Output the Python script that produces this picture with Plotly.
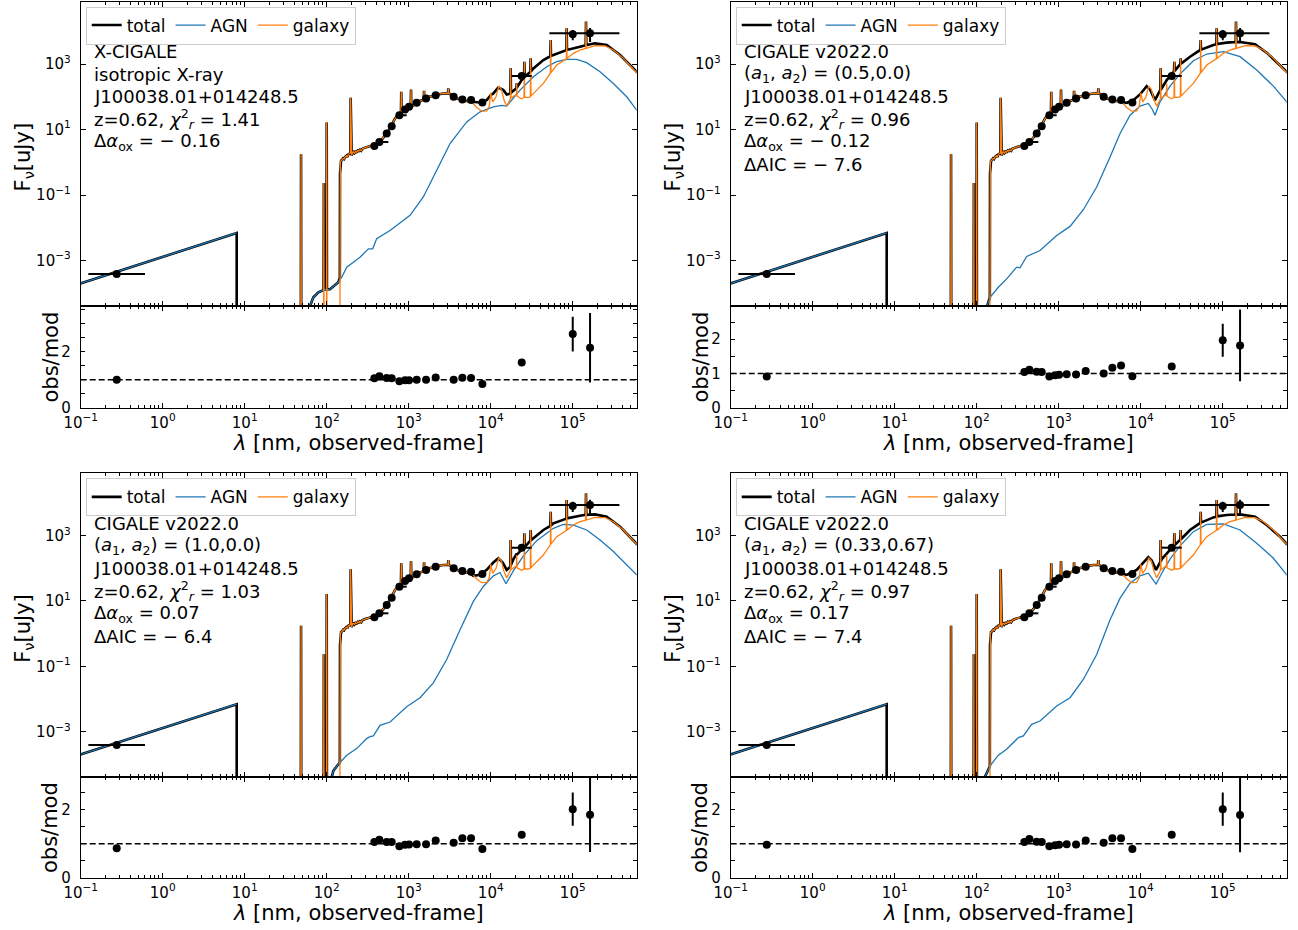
import plotly.graph_objects as go

# ---------------- observed photometry (same source in every panel) ----------------
obs_lam = [0.275, 381, 439, 539, 620, 769, 902, 1009, 1251, 1627, 2133,
           3533, 4508, 5754, 7911, 23870, 100000, 162600]
obs_flux = [3.9e-4, 3.16, 4.19, 7.53, 12.6, 27.5, 40.9, 49.4, 65.5, 88.9, 112,
            100, 82.8, 79.1, 67.0, 429, 8090, 8690]
obs_flux_err = [0.3e-4, 0.1, 0.1, 0.2, 0.3, 0.5, 0.8, 1.0, 1.5, 2.0, 3.0,
                2.0, 2.0, 3.0, 3.0, 30, 2800, 4000]
obs_lam_err_minus = [0.151, 0, 0, 0, 0, 0, 0, 0, 0, 0, 0, 0, 0, 0, 0, 5840, 0, 110700]
obs_lam_err_plus = [0.333, 0, 126, 0, 0, 175, 0, 0, 0, 0, 0, 0, 0, 0, 0, 7750, 0, 208100]

# ---------------- residuals obs/mod ----------------
res_tl = [1.00, 1.05, 1.12, 1.06, 1.05, 0.94, 0.98, 0.98, 1.00, 1.00, 1.08, 1.00, 1.07, 1.06, 0.85, 1.61, 2.63, 2.14]
res_tl_err = [0.05, 0.03, 0.03, 0.03, 0.03, 0.03, 0.03, 0.03, 0.03, 0.03, 0.03, 0.03, 0.04, 0.04, 0.03, 0.08, 0.62, 1.24]
res_tr = [0.91, 1.04, 1.11, 1.05, 1.04, 0.91, 0.95, 0.96, 0.98, 0.97, 1.07, 1.00, 1.17, 1.23, 0.92, 1.20, 1.97, 1.82]
res_tr_err = [0.08, 0.03, 0.03, 0.03, 0.03, 0.03, 0.03, 0.03, 0.03, 0.03, 0.03, 0.03, 0.07, 0.10, 0.03, 0.08, 0.48, 1.05]
res_bl = [0.87, 1.05, 1.12, 1.05, 1.05, 0.93, 0.97, 0.98, 0.99, 0.99, 1.10, 1.03, 1.16, 1.16, 0.85, 1.27, 2.02, 1.86]
res_bl_err = [0.06, 0.03, 0.03, 0.03, 0.03, 0.03, 0.03, 0.03, 0.03, 0.03, 0.03, 0.03, 0.07, 0.08, 0.03, 0.07, 0.49, 1.10]
res_br = [0.97, 1.05, 1.14, 1.06, 1.05, 0.93, 0.96, 0.97, 0.99, 0.98, 1.10, 1.03, 1.16, 1.16, 0.85, 1.27, 2.02, 1.85]
res_br_err = [0.07, 0.03, 0.03, 0.03, 0.03, 0.03, 0.03, 0.03, 0.03, 0.03, 0.03, 0.03, 0.07, 0.08, 0.03, 0.07, 0.49, 1.10]

# ---------------- model spectra, stored as log10(lambda/nm), log10(F/uJy) ----------------
# X-ray power law of the AGN (same in all panels)
xray_logl = [-1.05, 0.902]
xray_logf = [-3.74, -2.16]
floor_logf = -6.0   # far below the plotted range

# galaxy (same in all panels): far-UV lines, UV/optical, IR
gal_lo_logl = [1.60, 1.684, 1.687, 1.690, 1.962, 1.965, 1.968, 1.997, 2.000, 2.003, 2.160]
gal_lo_logf = [-6.0, -6.0, 0.245, -6.0, -6.0, -0.633, -6.0, -6.0, 1.215, -6.0, -6.0]

gal_mid_logl = [2.162, 2.166, 2.175, 2.183, 2.200, 2.212, 2.223, 2.240, 2.252, 2.264, 2.278,
                2.288, 2.292, 2.296, 2.305, 2.315, 2.325, 2.338, 2.350, 2.365, 2.380, 2.392,
                2.406, 2.420, 2.435, 2.460, 2.487, 2.520, 2.550, 2.589, 2.620, 2.650, 2.690,
                2.731, 2.760, 2.792, 2.815, 2.833, 2.855, 2.874, 2.905, 2.909, 2.913, 2.930,
                2.955, 2.985, 3.016, 3.024, 3.028, 3.032, 3.060, 3.097, 3.140, 3.183, 3.187,
                3.191, 3.219, 3.270, 3.321, 3.370, 3.422, 3.479, 3.483, 3.487, 3.510, 3.544,
                3.600, 3.646, 3.700, 3.740]
gal_mid_logf = [-0.35, 0.0, 0.05, 0.061, 0.12, 0.10, 0.163, 0.20, 0.16, 0.245, 0.26,
                0.27, 1.969, 0.25, 0.20, 0.30, 0.316, 0.28, 0.33, 0.31, 0.36, 0.34,
                0.38, 0.35, 0.41, 0.44, 0.469, 0.49, 0.505, 0.520, 0.57, 0.622, 0.75,
                0.877, 1.0, 1.132, 1.25, 1.337, 1.40, 1.45, 1.50, 2.153, 1.51, 1.55,
                1.592, 1.63, 1.673, 1.68, 2.224, 1.69, 1.74, 1.816, 1.87, 1.92, 2.183,
                1.93, 1.979, 2.02, 2.051, 2.08, 2.102, 2.11, 2.255, 2.11, 2.07, 2.0,
                1.94, 1.898, 1.87, 1.855]

gal_hi_logl = [3.768, 3.829, 3.890, 3.951, 3.983, 4.000, 4.024, 4.065, 4.097, 4.130, 4.162,
               4.195, 4.227, 4.239, 4.243, 4.247, 4.260, 4.296, 4.313, 4.317, 4.321, 4.333,
               4.378, 4.406, 4.410, 4.414, 4.459, 4.483, 4.487, 4.491, 4.561, 4.642, 4.727,
               4.731, 4.735, 4.805, 4.880, 4.922, 4.926, 4.930, 5.008, 5.089, 5.158, 5.162,
               5.166, 5.272, 5.394, 5.496, 5.618, 5.780, 5.850]
gal_hi_logf = [1.847, 1.673, 1.561, 1.571, 1.714, 2.122, 1.847, 2.0, 2.326, 2.224, 1.898,
               1.714, 1.898, 1.93, 2.867, 1.96, 1.979, 2.051, 2.04, 2.408, 2.02, 2.0,
               1.939, 1.979, 3.071, 1.979, 1.979, 2.0, 3.173, 2.02, 2.204, 2.408, 2.72,
               3.735, 2.74, 2.969, 3.10, 3.16, 4.092, 3.17, 3.326, 3.428, 3.475, 4.296,
               3.48, 3.561, 3.551, 3.428, 3.173, 2.735, 2.60]

# AGN UV-IR component, per panel
agn_tl_logl = [1.765, 1.837, 1.898, 1.959, 2.040, 2.101, 2.142, 2.183, 2.244, 2.325, 2.406, 2.508,
               2.561, 2.609, 2.772, 3.016, 3.178, 3.341, 3.504, 3.707, 3.870, 4.032, 4.134, 4.195,
               4.276, 4.357, 4.520, 4.683, 4.805, 4.926, 5.048, 5.170, 5.333, 5.496, 5.658, 5.780, 5.850]
agn_tl_logf = [-4.6, -4.123, -3.970, -3.898, -3.878, -3.765, -3.663, -3.510, -3.204, -3.051, -2.898, -2.643,
               -2.643, -2.337, -2.082, -1.622, -1.061, -0.245, 0.571, 1.234, 1.541, 1.694, 1.735, 1.714,
               1.949, 2.204, 2.612, 2.918, 3.071, 3.143, 3.143, 3.041, 2.765, 2.408, 2.0, 1.592, 1.43]
agn_tr_logl = [2.101, 2.162, 2.264, 2.365, 2.487, 2.528, 2.609, 2.772, 2.975, 3.138, 3.300, 3.463,
               3.626, 3.748, 3.870, 3.991, 4.093, 4.140, 4.174, 4.205, 4.235, 4.357, 4.479, 4.642,
               4.805, 5.008, 5.211, 5.414, 5.618, 5.780, 5.850]
agn_tr_logf = [-4.6, -4.123, -3.816, -3.561, -3.204, -3.224, -2.878, -2.694, -2.235, -1.959, -1.449, -0.755,
               0.163, 0.877, 1.439, 1.714, 1.796, 1.62, 1.439, 1.62, 1.847, 2.327, 2.694, 3.102,
               3.306, 3.377, 3.224, 2.816, 2.326, 1.847, 1.65]
agn_bl_logl = [2.040, 2.081, 2.142, 2.244, 2.365, 2.487, 2.528, 2.569, 2.650, 2.772, 2.975, 3.138,
               3.300, 3.463, 3.626, 3.788, 3.910, 4.032, 4.113, 4.150, 4.187, 4.225, 4.276, 4.398,
               4.561, 4.764, 4.886, 5.008, 5.170, 5.333, 5.496, 5.780, 5.850]
agn_bl_logf = [-4.6, -4.201, -4.0, -3.723, -3.520, -3.215, -3.154, -3.133, -2.808, -2.706, -2.238, -1.963,
               -1.506, -0.794, 0.122, 0.987, 1.444, 1.770, 1.872, 1.70, 1.526, 1.70, 1.923, 2.380,
               2.848, 3.225, 3.347, 3.326, 3.174, 2.869, 2.513, 1.801, 1.62]
agn_br_logl = [2.061, 2.162, 2.264, 2.365, 2.508, 2.569, 2.670, 2.772, 2.975, 3.138, 3.300, 3.463,
               3.626, 3.748, 3.870, 3.991, 4.093, 4.150, 4.187, 4.222, 4.256, 4.357, 4.479, 4.642,
               4.805, 5.008, 5.211, 5.414, 5.618, 5.780, 5.850]
agn_br_logf = [-4.6, -4.049, -3.723, -3.540, -3.184, -3.133, -2.777, -2.676, -2.218, -1.963, -1.404, -0.641,
               0.427, 1.088, 1.546, 1.770, 1.851, 1.66, 1.516, 1.68, 1.851, 2.279, 2.686, 3.123,
               3.347, 3.357, 3.174, 2.767, 2.309, 1.801, 1.62]

# total model below the Lyman break, per panel
tot_lo_tl_logl = [1.60, 1.684, 1.687, 1.690, 1.765, 1.837, 1.898, 1.959, 1.962, 1.965, 1.968, 1.997,
                  2.000, 2.003, 2.040, 2.101, 2.142, 2.158, 2.160]
tot_lo_tl_logf = [-6.0, -6.0, 0.245, -6.0, -4.6, -4.123, -3.970, -3.898, -3.898, -0.633, -3.895, -3.885,
                  1.215, -3.88, -3.878, -3.765, -3.663, -3.55, -3.5]
tot_lo_tr_logl = [1.60, 1.684, 1.687, 1.690, 1.962, 1.965, 1.968, 1.997, 2.000, 2.003, 2.101, 2.130, 2.160]
tot_lo_tr_logf = [-6.0, -6.0, 0.245, -6.0, -6.0, -0.633, -6.0, -6.0, 1.215, -6.0, -4.6, -4.35, -4.13]
tot_lo_bl_logl = [1.60, 1.684, 1.687, 1.690, 1.962, 1.965, 1.968, 1.997, 2.000, 2.003, 2.040, 2.081, 2.142, 2.160]
tot_lo_bl_logf = [-6.0, -6.0, 0.245, -6.0, -6.0, -0.633, -6.0, -6.0, 1.215, -6.0, -4.6, -4.201, -4.0, -3.95]
tot_lo_br_logl = [1.60, 1.684, 1.687, 1.690, 1.962, 1.965, 1.968, 1.997, 2.000, 2.003, 2.061, 2.110, 2.160]
tot_lo_br_logf = [-6.0, -6.0, 0.245, -6.0, -6.0, -0.633, -6.0, -6.0, 1.215, -6.0, -4.6, -4.35, -4.06]

# total model in the infrared, per panel
tot_hi_tl_logl = [3.788, 3.870, 3.951, 4.000, 4.032, 4.093, 4.154, 4.195, 4.239, 4.243, 4.247, 4.276,
                  4.313, 4.317, 4.321, 4.378, 4.406, 4.410, 4.414, 4.439, 4.483, 4.487, 4.491, 4.520,
                  4.642, 4.727, 4.731, 4.735, 4.764, 4.922, 4.926, 4.930, 5.089, 5.158, 5.162, 5.166,
                  5.272, 5.414, 5.577, 5.780, 5.850]
tot_hi_tl_logf = [1.847, 1.826, 1.898, 2.05, 2.102, 2.286, 2.204, 2.071, 2.10, 2.867, 2.12, 2.183,
                  2.26, 2.408, 2.29, 2.510, 2.59, 3.071, 2.60, 2.663, 2.76, 3.173, 2.77, 2.867,
                  3.122, 3.24, 3.735, 3.25, 3.275, 3.425, 4.092, 3.43, 3.530, 3.575, 4.296, 3.58,
                  3.632, 3.581, 3.275, 2.765, 2.65]
tot_hi_tr_logl = [3.829, 3.910, 3.991, 4.073, 4.113, 4.174, 4.235, 4.239, 4.243, 4.247, 4.317, 4.398,
                  4.406, 4.410, 4.414, 4.479, 4.483, 4.487, 4.491, 4.601, 4.723, 4.727, 4.731, 4.735,
                  4.886, 4.922, 4.926, 4.930, 5.048, 5.158, 5.162, 5.166, 5.211, 5.394, 5.536, 5.699,
                  5.780, 5.850]
tot_hi_tr_logf = [1.816, 1.898, 2.071, 2.326, 2.224, 1.898, 2.204, 2.21, 2.867, 2.22, 2.510, 2.765,
                  2.78, 3.071, 2.79, 2.990, 3.0, 3.173, 3.01, 3.224, 3.42, 3.43, 3.735, 3.44,
                  3.581, 3.60, 4.092, 3.61, 3.653, 3.67, 4.296, 3.67, 3.673, 3.602, 3.347, 2.969,
                  2.765, 2.65]
tot_hi_bl_logl = [3.788, 3.870, 3.951, 4.032, 4.093, 4.146, 4.195, 4.239, 4.243, 4.247, 4.276, 4.313,
                  4.317, 4.321, 4.357, 4.406, 4.410, 4.414, 4.439, 4.483, 4.487, 4.491, 4.520, 4.642,
                  4.727, 4.731, 4.735, 4.764, 4.922, 4.926, 4.930, 5.089, 5.158, 5.162, 5.166, 5.272,
                  5.414, 5.577, 5.780, 5.850]
tot_hi_bl_logf = [1.770, 1.800, 1.953, 2.177, 2.309, 2.177, 1.953, 2.05, 2.867, 2.10, 2.279, 2.40,
                  2.45, 2.42, 2.513, 2.65, 3.071, 2.66, 2.716, 2.85, 3.173, 2.86, 2.920, 3.174,
                  3.30, 3.735, 3.31, 3.377, 3.52, 4.092, 3.53, 3.611, 3.64, 4.296, 3.64, 3.652,
                  3.581, 3.276, 2.747, 2.63]
tot_hi_br_logl = [3.829, 3.951, 4.032, 4.093, 4.134, 4.187, 4.239, 4.243, 4.247, 4.256, 4.357, 4.406,
                  4.410, 4.414, 4.479, 4.483, 4.487, 4.491, 4.601, 4.723, 4.727, 4.731, 4.735, 4.886,
                  4.922, 4.926, 4.930, 5.048, 5.158, 5.162, 5.166, 5.211, 5.394, 5.536, 5.699, 5.780,
                  5.850]
tot_hi_br_logf = [1.800, 1.953, 2.157, 2.340, 2.238, 1.953, 2.20, 2.867, 2.22, 2.279, 2.563, 2.70,
                  3.071, 2.71, 2.869, 2.88, 3.173, 2.89, 3.174, 3.377, 3.39, 3.735, 3.40, 3.560,
                  3.58, 4.092, 3.59, 3.632, 3.645, 4.296, 3.645, 3.652, 3.581, 3.326, 2.970, 2.747,
                  2.63]

# panel annotations
text_tl = ["X-CIGALE", "isotropic X-ray", "J100038.01+014248.5",
           "z=0.62, <i>χ</i><sup>2</sup><sub><i>r</i></sub> = 1.41",
           "Δ<i>α</i><sub>ox</sub> = − 0.16"]
text_tr = ["CIGALE v2022.0", "(<i>a</i><sub>1</sub>, <i>a</i><sub>2</sub>) = (0.5,0.0)", "J100038.01+014248.5",
           "z=0.62, <i>χ</i><sup>2</sup><sub><i>r</i></sub> = 0.96",
           "Δ<i>α</i><sub>ox</sub> = − 0.12", "ΔAIC = − 7.6"]
text_bl = ["CIGALE v2022.0", "(<i>a</i><sub>1</sub>, <i>a</i><sub>2</sub>) = (1.0,0.0)", "J100038.01+014248.5",
           "z=0.62, <i>χ</i><sup>2</sup><sub><i>r</i></sub> = 1.03",
           "Δ<i>α</i><sub>ox</sub> = 0.07", "ΔAIC = − 6.4"]
text_br = ["CIGALE v2022.0", "(<i>a</i><sub>1</sub>, <i>a</i><sub>2</sub>) = (0.33,0.67)", "J100038.01+014248.5",
           "z=0.62, <i>χ</i><sup>2</sup><sub><i>r</i></sub> = 0.97",
           "Δ<i>α</i><sub>ox</sub> = 0.17", "ΔAIC = − 7.4"]

x_tick_vals = [0.1, 1, 10, 100, 1e3, 1e4, 1e5]
x_tick_text = ["10<sup>−1</sup>", "10<sup>0</sup>", "10<sup>1</sup>", "10<sup>2</sup>",
               "10<sup>3</sup>", "10<sup>4</sup>", "10<sup>5</sup>"]
y_tick_vals = [1e-3, 1e-1, 1e1, 1e3]
y_tick_text = ["10<sup>−3</sup>", "10<sup>−1</sup>", "10<sup>1</sup>", "10<sup>3</sup>"]

# ---------------- figure ----------------
W, H = 1298, 930
FONT = "DejaVu Sans, Verdana, sans-serif"
BLUE, ORANGE = "#1f77b4", "#ff7f0e"


def p10(v):
    return [None if a is None else 10 ** a for a in v]


def px(xw):   # window x pixel -> paper fraction
    return xw / W


def py(yw):   # window y pixel -> paper fraction
    return 1 - yw / H


panels = [
    dict(agn_l=agn_tl_logl, agn_f=agn_tl_logf, lo_l=tot_lo_tl_logl, lo_f=tot_lo_tl_logf,
         hi_l=tot_hi_tl_logl, hi_f=tot_hi_tl_logf, res=res_tl, res_err=res_tl_err,
         res_top=3.63, res_ticks=(["0", "", "", "", "2", "", "", ""]), text=text_tl),
    dict(agn_l=agn_tr_logl, agn_f=agn_tr_logf, lo_l=tot_lo_tr_logl, lo_f=tot_lo_tr_logf,
         hi_l=tot_hi_tr_logl, hi_f=tot_hi_tr_logf, res=res_tr, res_err=res_tr_err,
         res_top=2.97, res_ticks=(["0", "", "1", "", "2", "", "", ""]), text=text_tr),
    dict(agn_l=agn_bl_logl, agn_f=agn_bl_logf, lo_l=tot_lo_bl_logl, lo_f=tot_lo_bl_logf,
         hi_l=tot_hi_bl_logl, hi_f=tot_hi_bl_logf, res=res_bl, res_err=res_bl_err,
         res_top=2.97, res_ticks=(["0", "", "", "", "2", "", "", ""]), text=text_bl),
    dict(agn_l=agn_br_logl, agn_f=agn_br_logf, lo_l=tot_lo_br_logl, lo_f=tot_lo_br_logf,
         hi_l=tot_hi_br_logl, hi_f=tot_hi_br_logf, res=res_br, res_err=res_br_err,
         res_top=2.97, res_ticks=(["0", "", "", "", "2", "", "", ""]), text=text_br),
]

col_px = [(80.7, 636.7), (730.7, 1286.7)]
row_px = [(1.5, 306.0, 407.7), (473.3, 777.0, 877.7)]

fig = go.Figure()
layout = dict(width=W, height=H, margin=dict(l=0, r=0, t=0, b=0, pad=0, autoexpand=False),
              paper_bgcolor="white", plot_bgcolor="white",
              font=dict(family=FONT, color="black", size=15), showlegend=True)
annotations = []
shapes = []

minor_x = [m * 10 ** d for d in range(-1, 6) for m in range(2, 10) if m * 10 ** d < 6e5]
res_tick_vals = [0, 0.5, 1, 1.5, 2, 2.5, 3, 3.5]

axis_common = dict(showline=True, linecolor="black", linewidth=1, mirror="allticks",
                   ticks="inside", ticklen=5, tickwidth=1, tickcolor="black", automargin=False,
                   showgrid=False, zeroline=False, tickfont=dict(size=15, family=FONT))

for i, p in enumerate(panels):
    c, r = i % 2, i // 2
    x0, x1 = col_px[c]
    ytop, ymid, ybot = row_px[r]
    mi, ri = 2 * i + 1, 2 * i + 2
    xm = "x" if mi == 1 else f"x{mi}"
    ym = "y" if mi == 1 else f"y{mi}"
    xr, yr = f"x{ri}", f"y{ri}"
    leg = "legend" if i == 0 else f"legend{i + 1}"

    xdom = [px(x0), px(x1)]
    layout["xaxis" if mi == 1 else f"xaxis{mi}"] = dict(
        axis_common, type="log", range=[-1, 5.78], domain=xdom, anchor=ym,
        tickvals=x_tick_vals, ticktext=x_tick_text, showticklabels=False,
        minor=dict(tickmode="array", tickvals=minor_x, ticks="inside", ticklen=3,
                   tickcolor="black", showgrid=False))
    layout["yaxis" if mi == 1 else f"yaxis{mi}"] = dict(
        axis_common, type="log", range=[-4.39, 4.91], domain=[py(ymid), py(ytop)],
        anchor=xm, tickvals=y_tick_vals, ticktext=y_tick_text, ticklabelstandoff=6)
    layout[f"xaxis{ri}"] = dict(
        axis_common, type="log", range=[-1, 5.78], domain=xdom, anchor=yr,
        tickvals=x_tick_vals, ticktext=x_tick_text, ticklabelstandoff=1,
        minor=dict(tickmode="array", tickvals=minor_x, ticks="inside", ticklen=3,
                   tickcolor="black", showgrid=False))
    layout[f"yaxis{ri}"] = dict(
        axis_common, range=[0, p["res_top"]], domain=[py(ybot), py(ymid)],
        anchor=xr, tickvals=res_tick_vals, ticktext=p["res_ticks"], ticklen=4,
        ticklabelstandoff=6)

    # legend
    layout[leg] = dict(x=px(x0 + 5), y=py(ytop + 5), xanchor="left", yanchor="top",
                       orientation="h", bgcolor="rgba(255,255,255,0.85)",
                       bordercolor="#cccccc", borderwidth=1,
                       font=dict(size=17, family=FONT), itemwidth=30, tracegroupgap=0)

    # model curves
    tot_l = xray_logl + [xray_logl[-1]] + p["lo_l"] + gal_mid_logl + p["hi_l"]
    tot_f = xray_logf + [floor_logf] + p["lo_f"] + gal_mid_logf + p["hi_f"]
    fig.add_trace(go.Scatter(x=p10(tot_l), y=p10(tot_f), mode="lines", name="total",
                             line=dict(color="black", width=2.6), xaxis=xm, yaxis=ym,
                             legend=leg, hoverinfo="skip"))
    agn_l = xray_logl + [None] + p["agn_l"]
    agn_f = xray_logf + [None] + p["agn_f"]
    fig.add_trace(go.Scatter(x=p10(agn_l), y=p10(agn_f), mode="lines", name="AGN",
                             line=dict(color=BLUE, width=1.3), xaxis=xm, yaxis=ym,
                             legend=leg, connectgaps=False, hoverinfo="skip"))
    gal_l = gal_lo_logl + gal_mid_logl + gal_hi_logl
    gal_f = gal_lo_logf + gal_mid_logf + gal_hi_logf
    fig.add_trace(go.Scatter(x=p10(gal_l), y=p10(gal_f), mode="lines", name="galaxy",
                             line=dict(color=ORANGE, width=1.3), xaxis=xm, yaxis=ym,
                             legend=leg, hoverinfo="skip"))
    # photometry
    fig.add_trace(go.Scatter(x=obs_lam, y=obs_flux, mode="markers", showlegend=False,
                             marker=dict(color="black", size=8),
                             error_y=dict(type="data", array=obs_flux_err, color="black",
                                          thickness=2, width=0),
                             error_x=dict(type="data", symmetric=False, array=obs_lam_err_plus,
                                          arrayminus=obs_lam_err_minus, color="black",
                                          thickness=2, width=0),
                             xaxis=xm, yaxis=ym, hoverinfo="skip"))
    # residuals
    shapes.append(dict(type="line", xref=f"{xr} domain", yref=yr, x0=0, x1=1, y0=1, y1=1,
                       line=dict(color="black", width=1.6, dash="6px,3px"), layer="below"))
    fig.add_trace(go.Scatter(x=obs_lam, y=p["res"], mode="markers", showlegend=False,
                             marker=dict(color="black", size=8),
                             error_y=dict(type="data", array=p["res_err"], color="black",
                                          thickness=2, width=0),
                             xaxis=xr, yaxis=yr, hoverinfo="skip"))

    # text block
    for k, t in enumerate(p["text"]):
        ypx = ytop + 50 + k * 22.6
        annotations.append(dict(text=t, x=px(x0 + 11), y=py(ypx), xref="paper", yref="paper",
                                xanchor="left", yanchor="middle", showarrow=False,
                                font=dict(size=18, family=FONT)))
    # axis titles
    annotations.append(dict(text="F<sub>ν</sub>[uJy]", x=px(x0 - 57), y=py((ytop + ymid + 6) / 2),
                            xref="paper", yref="paper", textangle=-90, showarrow=False,
                            xanchor="center", yanchor="middle", font=dict(size=21, family=FONT)))
    annotations.append(dict(text="obs/mod", x=px(x0 - 30), y=py((ymid + ybot) / 2),
                            xref="paper", yref="paper", textangle=-90, showarrow=False,
                            xanchor="center", yanchor="middle", font=dict(size=21, family=FONT)))
    annotations.append(dict(text="<i>λ</i> [nm, observed-frame]", x=px((x0 + x1) / 2),
                            y=py(ybot + 35), xref="paper", yref="paper", showarrow=False,
                            xanchor="center", yanchor="middle", font=dict(size=21, family=FONT)))

layout["annotations"] = annotations
layout["shapes"] = shapes
fig.update_layout(**layout)
# remove the default 8 px page margin so the figure fills the window exactly
fig.write_html("out.html", config={"displayModeBar": False},
               post_script="document.body.style.margin='0';document.body.style.overflow='hidden';")
